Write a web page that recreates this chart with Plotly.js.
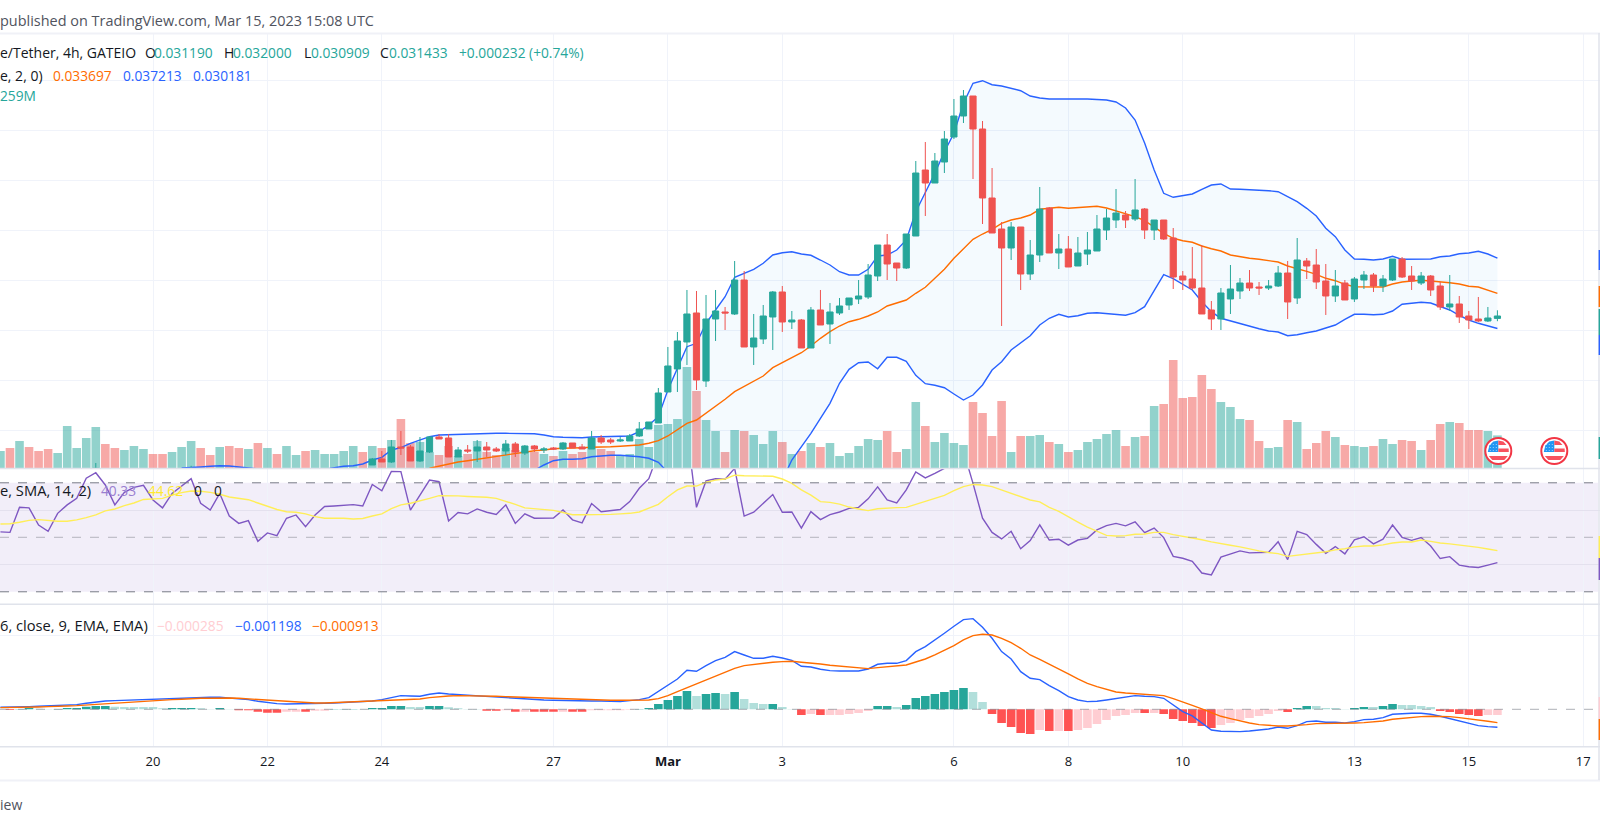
<!DOCTYPE html>
<html><head><meta charset="utf-8">
<script src="https://cdn.plot.ly/plotly-3.0.1.min.js"></script>
<style>html,body{margin:0;padding:0;background:#fff;overflow:hidden}#chart{width:1600px;height:825px}</style>
</head><body><div id="chart"></div>
<script>
// Bars are 4h; bar index k runs from -16 to 141, k=0 is 2023-02-20 00:00 UTC.
const firstBar = Date.UTC(2023,1,20) - 16*4*3600e3;
const barCount = 158;
const fmt = ms => new Date(ms).toISOString().slice(0,19).replace('T',' ');
const times = Array.from({length:barCount},(_, i)=>fmt(firstBar+i*4*3600e3));
const tail = a => times.slice(-a.length);

const tickDates = ['2023-02-20','2023-02-22','2023-02-24','2023-02-27','2023-03-01','2023-03-03','2023-03-06','2023-03-08','2023-03-10','2023-03-13','2023-03-15','2023-03-17'];
const tickLabels = ['20','22','24','27','<b>Mar</b>','3','6','8','10','13','15','17'];

// Candles: two older ones that barely peek into the pane, then k=23..141
const candleOpen = [0.0160,0.0158,
0.01653,0.01713,0.01683,0.01833,0.01833,0.01693,0.01783,0.01933,0.01923,0.01733,
0.01803,0.01793,0.01833,0.01813,0.01793,0.01863,0.01773,0.01843,0.01803,0.01823,
0.01813,0.01873,0.01833,0.01813,0.01923,0.01903,0.01893,0.01893,0.01943,0.02013,
0.02073,0.02383,0.02613,0.02883,0.03173,0.02493,0.03113,0.03183,0.03163,0.03503,
0.02833,0.02913,0.03133,0.03383,0.03083,0.03103,0.02823,0.03203,0.03063,0.03173,
0.03253,0.03313,0.03333,0.03543,0.03853,0.03673,0.03623,0.03943,0.04603,0.04473,
0.04683,0.04933,0.05143,0.05343,0.05013,0.04323,0.04013,0.03823,0.04033,0.03563,
0.03753,0.04223,0.03773,0.03813,0.03643,0.03763,0.03793,0.04003,0.04103,0.04153,
0.04113,0.04213,0.04003,0.04103,0.03923,0.03543,0.03513,0.03423,0.03203,0.03113,
0.03313,0.03393,0.03473,0.03433,0.03423,0.03443,0.03573,0.03323,0.03693,0.03653,
0.03493,0.03343,0.03473,0.03313,0.03503,0.03553,0.03443,0.03503,0.03713,0.03543,
0.03473,0.03543,0.03443,0.03233,0.03263,0.03143,0.03113,0.03093,0.03119];
const candleHigh = [0.01673,0.01645,
0.01723,0.01793,0.01903,0.01993,0.01853,0.01933,0.01943,0.01963,0.01963,0.01833,
0.01853,0.01903,0.01883,0.01833,0.01903,0.01883,0.01853,0.01853,0.01833,0.01833,
0.01883,0.01873,0.01863,0.01993,0.01953,0.01923,0.01933,0.01963,0.02083,0.02083,
0.02423,0.02833,0.02983,0.03403,0.03393,0.03353,0.03403,0.03233,0.03693,0.03593,
0.03163,0.03253,0.03393,0.03443,0.03193,0.03113,0.03233,0.03403,0.03273,0.03323,
0.03323,0.03503,0.03663,0.03853,0.03963,0.03673,0.03963,0.04693,0.04883,0.04773,
0.04993,0.05313,0.05403,0.05343,0.05093,0.04623,0.04083,0.04083,0.04033,0.03903,
0.04433,0.04233,0.03963,0.03943,0.03933,0.03983,0.04153,0.04213,0.04413,0.04193,
0.04513,0.04223,0.04103,0.04103,0.04023,0.03593,0.03833,0.03853,0.03293,0.03423,
0.03653,0.03523,0.03603,0.03483,0.03503,0.03643,0.03693,0.03923,0.03723,0.03813,
0.03663,0.03603,0.03503,0.03533,0.03593,0.03573,0.03553,0.03713,0.03733,0.03643,
0.03583,0.03553,0.03483,0.03553,0.03343,0.03193,0.03333,0.03233,0.03200];
const candleLow = [0.0158,0.0158,
0.01653,0.01683,0.01673,0.01753,0.01693,0.01683,0.01773,0.01913,0.01733,0.01733,
0.01773,0.01683,0.01733,0.01783,0.01753,0.01733,0.01753,0.01783,0.01773,0.01803,
0.01803,0.01823,0.01813,0.01813,0.01863,0.01863,0.01883,0.01893,0.01933,0.02013,
0.02073,0.02383,0.02383,0.02653,0.02403,0.02433,0.02893,0.03003,0.03153,0.02833,
0.02653,0.02863,0.02803,0.02983,0.03013,0.02823,0.02823,0.03053,0.02863,0.03153,
0.03203,0.03263,0.03313,0.03493,0.03503,0.03493,0.03613,0.03943,0.04143,0.04473,
0.04573,0.04913,0.05073,0.04513,0.04063,0.03973,0.03043,0.03703,0.03403,0.03503,
0.03683,0.03773,0.03613,0.03633,0.03643,0.03653,0.03793,0.03903,0.04023,0.04023,
0.04093,0.03913,0.03903,0.03903,0.03413,0.03403,0.03403,0.03163,0.03003,0.03003,
0.03163,0.03313,0.03393,0.03353,0.03403,0.03433,0.03113,0.03263,0.03513,0.03413,
0.03153,0.03283,0.03303,0.03283,0.03413,0.03383,0.03383,0.03493,0.03523,0.03403,
0.03453,0.03343,0.03203,0.03193,0.03073,0.03013,0.03083,0.03083,0.03091];
const candleClose = [0.0162,0.0160,
0.01713,0.01683,0.01833,0.01823,0.01693,0.01793,0.01933,0.01913,0.01733,0.01803,
0.01793,0.01833,0.01803,0.01793,0.01863,0.01783,0.01843,0.01813,0.01813,0.01813,
0.01873,0.01823,0.01813,0.01923,0.01883,0.01883,0.01903,0.01943,0.02013,0.02083,
0.02373,0.02643,0.02893,0.03163,0.02503,0.03113,0.03193,0.03173,0.03503,0.02833,
0.02923,0.03143,0.03383,0.03083,0.03103,0.02823,0.03203,0.03053,0.03183,0.03243,
0.03323,0.03343,0.03553,0.03853,0.03663,0.03623,0.03963,0.04573,0.04473,0.04693,
0.04913,0.05143,0.05343,0.05013,0.04323,0.03973,0.03823,0.04033,0.03563,0.03753,
0.04213,0.03773,0.03813,0.03633,0.03773,0.03803,0.04013,0.04123,0.04173,0.04103,
0.04203,0.04003,0.04103,0.03913,0.03533,0.03503,0.03423,0.03163,0.03113,0.03373,
0.03413,0.03473,0.03423,0.03423,0.03443,0.03573,0.03283,0.03703,0.03643,0.03483,
0.03343,0.03443,0.03303,0.03513,0.03553,0.03443,0.03513,0.03713,0.03533,0.03493,
0.03543,0.03403,0.03233,0.03263,0.03133,0.03103,0.03093,0.03123,0.03143];

const upperBand = [0.01623,0.01626,0.01633,0.0164,0.01646,0.01643,0.01633,0.01623,0.01615,0.01605,
0.01595,0.01585,0.01585,0.0159,0.016,0.0161,0.01626,0.0164,0.01646,0.01663,
0.01703,0.0173,0.01803,0.01826,0.0187,0.01903,0.01936,0.01953,0.01956,0.0196,
0.01963,0.01966,0.01973,0.0197,0.0197,0.0197,0.0197,0.01966,0.01953,0.01936,
0.0193,0.01926,0.01926,0.01933,0.01936,0.0194,0.01943,0.01943,0.01986,0.02053,
0.02136,0.02403,0.0262,0.02836,0.0287,0.0307,0.03203,0.03336,0.0353,0.0357,
0.0361,0.0367,0.03753,0.03776,0.03786,0.03763,0.0375,0.03703,0.03653,0.03586,
0.03553,0.03553,0.0361,0.03743,0.03753,0.03803,0.03903,0.04186,0.0437,0.0457,
0.04786,0.0497,0.0527,0.0547,0.05496,0.05456,0.05443,0.0542,0.05396,0.05343,
0.05323,0.05313,0.05313,0.05313,0.05318,0.05313,0.05308,0.05303,0.05283,0.05223,
0.05103,0.04873,0.04603,0.0437,0.0433,0.04343,0.04363,0.0441,0.04453,0.04463,
0.04413,0.0441,0.04406,0.04403,0.04396,0.04386,0.04336,0.04286,0.0422,0.04143,
0.0402,0.03936,0.03803,0.03713,0.0371,0.03703,0.03713,0.0374,0.0371,0.03713,
0.03713,0.03713,0.03736,0.03743,0.03766,0.03773,0.0379,0.03763,0.037213];

const basisBand = [0.0162,0.01643,0.01663,0.01683,0.01696,0.0171,0.0173,0.01743,0.01753,0.0177,
0.01783,0.01796,0.01803,0.01816,0.0182,0.01826,0.01826,0.0183,0.0183,0.01835,
0.0184,0.01843,0.01853,0.0187,0.01896,0.01943,0.02003,0.0207,0.02103,0.0217,
0.02236,0.0231,0.02386,0.02436,0.02486,0.02543,0.02626,0.02676,0.0273,0.02776,
0.02843,0.0292,0.02986,0.03043,0.03086,0.0311,0.03143,0.03183,0.03243,0.03276,
0.03303,0.0337,0.0343,0.0352,0.0361,0.0372,0.0381,0.0391,0.03963,0.0401,
0.0407,0.04103,0.04123,0.04153,0.0421,0.04223,0.0423,0.0422,0.04226,0.04236,
0.0424,0.04223,0.04196,0.0417,0.04136,0.04096,0.0403,0.0397,0.0392,0.03896,
0.0388,0.03843,0.03816,0.03793,0.03753,0.03736,0.0372,0.0371,0.03696,0.03683,
0.03643,0.0362,0.0359,0.0356,0.0352,0.03496,0.0346,0.03436,0.03433,0.0343,
0.03433,0.03463,0.03483,0.03493,0.035,0.03493,0.03486,0.03476,0.03463,0.0344,
0.03433,0.03403,0.033697];

const lowerBand = [0.0150,0.0150,0.0150,0.0151,0.0151,0.0151,0.0152,0.0152,0.0152,0.0153,
0.0153,0.0153,0.0153,0.0152,0.0152,0.0152,0.0152,0.0151,0.0151,0.0151,
0.0150,0.0150,0.0150,0.0150,0.0151,0.0151,0.0152,0.0152,0.0153,0.0153,
0.0154,0.0154,0.0155,0.0155,0.0156,0.0157,0.0158,0.0160,
0.01653,0.01696,0.0171,0.0171,0.01716,0.01736,0.01746,0.0175,0.0175,0.01746,
0.01736,0.0172,0.0168,0.0158,0.0150,0.0140,0.0130,0.0125,0.0122,0.0120,
0.0120,0.0122,0.0125,0.0130,0.0140,0.0150,0.01703,0.01836,0.0197,0.0212,
0.0227,0.0247,0.0261,0.02676,0.02683,0.02616,0.0273,0.0273,0.0269,0.0255,
0.02466,0.0245,0.02426,0.02363,0.02303,0.02353,0.02453,0.02603,0.02686,0.02803,
0.0287,0.02946,0.03053,0.0312,0.0316,0.03133,0.03146,0.0317,0.03176,0.03166,
0.03156,0.0315,0.03176,0.03236,0.03396,0.03556,0.03516,0.0346,0.03403,0.03286,
0.03186,0.0312,0.03093,0.0307,0.03043,0.03016,0.02993,0.02983,0.02946,0.02956,
0.02976,0.02993,0.03023,0.03053,0.0311,0.0316,0.0316,0.03156,0.0316,0.03193,
0.0326,0.03273,0.0328,0.03273,0.03236,0.03203,0.0315,0.03103,0.0307,0.03043,0.030181];

// Volume in millions, k=-16..141
const volume = [1.7,2.0,2.7,2.1,1.7,1.9,1.5,4.2,2.0,3.0,4.1,2.4,2.0,1.8,2.2,1.9,
1.4,1.4,1.6,2.1,2.7,2.0,1.3,2.1,2.2,2.0,
1.9,2.5,2.0,1.4,2.2,1.3,1.7,1.8,1.4,1.4,
1.7,2.2,1.6,2.2,2.0,2.8,4.9,2.5,2.6,1.6,
1.3,2.2,1.2,1.4,2.7,1.6,1.3,2.0,1.8,1.7,
1.6,1.4,1.2,1.7,1.4,1.6,3.0,1.9,1.7,1.3,
1.4,2.9,2.1,4.3,4.4,4.9,10.1,7.7,4.8,3.7,
1.6,3.8,3.7,3.3,2.4,3.7,2.6,1.4,1.7,2.5,
2.1,2.5,1.2,1.5,2.2,2.9,2.8,3.7,1.6,1.9,
6.6,4.2,2.6,3.5,2.5,2.3,6.6,5.5,3.2,6.7,
1.6,3.2,3.2,3.3,2.6,2.4,1.6,1.8,2.6,2.9,
3.4,3.8,2.2,3.1,3.2,6.2,6.4,10.8,7.0,7.1,
9.3,7.9,6.6,6.1,4.9,4.8,2.7,2.0,2.1,4.8,
4.6,1.9,2.5,3.7,3.1,2.3,2.2,2.1,2.2,2.9,
2.4,2.8,2.7,1.8,2.8,4.4,4.6,4.5,3.8,3.8,
3.7,3.26];
// colour of the volume bars that have no visible candle (k=-16..22): t teal, p pink
const earlyVolumeSide = 'tptpppttttt'+'pp'+'ttt'+'pp'+'ttt'+'pp'+'t'+'pp'+'t'+'p'+'t'+'p'+'tt'+'p'+'tttt'+'t'+'p';

const rsi = [52.0,51.8,61.0,60.8,54.5,52.2,58.8,61.9,64.3,71.7,73.7,69.2,61.9,66.5,68.3,69.1,
63.7,60.8,66.1,68.8,71.5,62.5,60.0,66.1,57.8,55.1,
56.1,48.5,51.6,50.6,57.0,58.2,53.9,58.2,61.3,61.5,
61.7,62.0,61.5,69.4,67.1,74.2,74.1,60.0,65.5,71.0,
70.4,56.0,59.1,58.6,60.4,59.2,58.4,61.9,55.1,58.6,
57.0,57.1,57.1,60.0,56.4,55.3,62.4,59.4,59.8,60.2,
63.1,68.0,71.5,81,84,87,89,61.0,70.7,71.5,
71.3,75.3,57.8,59.2,62.5,65.7,59.2,59.3,53.4,59.4,
56.5,58.3,59.3,60.6,61.0,64.1,68.5,63.7,62.6,67.4,
74.0,71.8,73.5,75.3,78,81.7,69.8,57.0,51.8,49.4,
52.2,45.8,48.8,54.6,49.0,49.3,47.1,49.0,49.6,52.7,
54.3,55.1,54.2,55.7,51.7,53.4,49.9,43.0,42.3,41.2,
36.9,36.2,42.7,43.8,45.0,44.3,44.3,44.5,48.4,41.8,
52.2,51.0,47.4,44.1,46.6,43.9,49.1,50.2,47.6,49.3,
54.5,50.0,48.9,49.9,46.8,42.2,42.9,39.8,39.2,38.9,
39.8,40.7];
const rsiSignal = [54.9,55.0,55.5,56.2,56.5,56.1,55.9,55.9,56.4,57.2,58.2,59.7,60.4,61.6,62.6,63.9,
64.1,64.3,65.5,66.4,67.0,66.9,66.5,65.8,64.8,64.2,
63.8,62.6,61.5,60.2,59.4,59.2,58.6,57.6,57.0,57.0,
57.0,56.7,56.9,57.8,58.6,60.5,61.9,62.5,63.3,64.3,
65.3,65.3,65.2,65.0,64.9,64.7,64.3,63.3,62.1,60.8,
60.5,60.2,59.9,59.1,58.3,58.3,58.3,58.4,58.4,58.6,
58.8,59.3,60.6,62.1,64.9,67.4,68.8,68.8,70.2,71.0,
71.4,72.8,72.6,72.5,72.5,72.4,71.4,69.8,67.4,65.5,
63.1,62.8,62.2,61.1,60.4,59.8,60.5,60.8,60.9,61.0,
62.1,63.0,64.3,65.4,67.1,68.6,69.4,69.2,68.6,67.4,
66.1,64.8,63.7,63.0,61.0,59.5,57.7,55.6,53.7,52.1,
50.7,50.5,50.6,51.1,51.2,51.8,51.8,51.0,50.4,49.9,
49.1,48.3,47.8,47.1,46.5,45.7,45.0,44.4,44.0,43.0,
43.4,43.9,44.3,44.7,45.4,45.8,46.5,46.8,46.8,47.2,
47.9,48.3,48.3,49.0,48.5,47.9,47.6,47.2,46.7,46.3,
45.7,45.1];

// MACD values in units of 0.00002253 (so the last MACD, -0.001198, reads -54)
const macdLine = [6,6,7,8,9,10,10,12,14,18,22,25,26,27,28,30,
32,32,33,34,35,36,36,36,34,32,
29,24,20,17,16,16,17,18,18,19,
20,21,23,25,29,35,41,40,39,45,
49,46,44,43,41,40,37,35,33,32,
30,28,27,26,26,25,25,25,25,23,
26,29,35,53,71,91,117,114,131,146,
156,173,163,153,153,159,154,147,129,127,
120,116,115,115,115,121,135,138,138,146,
173,188,207,228,249,269,272,246,213,173,
151,113,93,89,71,56,38,28,23,24,
28,33,36,41,39,38,33,13,-7,-20,
-42,-62,-66,-67,-67,-65,-63,-59,-53,-57,
-49,-37,-35,-39,-39,-41,-37,-31,-30,-25,
-15,-13,-12,-12,-15,-21,-28,-36,-43,-49,
-52,-54];
const macdSignal = [5,5,6,6,7,8,8,10,11,13,15,17,19,21,23,25,
26,28,29,30,32,33,33,34,34,33,
31,29,27,25,23,21,20,19,19,20,
21,22,23,24,25,27,28,29,31,35,
38,40,41,41,41,40,39,38,37,36,
34,33,32,30,29,28,28,27,27,27,
27,27,28,32,41,53,65,75,87,100,
111,123,131,135,138,141,143,144,141,139,
136,132,129,126,124,122,125,128,129,133,
142,151,163,176,191,208,221,225,223,213,
200,183,163,150,136,121,106,91,78,68,
60,52,49,47,46,45,41,32,23,12,
1,-10,-21,-28,-35,-41,-46,-49,-50,-50,
-49,-46,-43,-43,-42,-42,-41,-40,-38,-35,
-30,-27,-24,-22,-21,-21,-22,-25,-28,-32,
-36,-40];
const macdHist = [0,-2,1,5,2,1,1,4,4,8,10,10,8,7,7,7,
7,3,4,4,4,3,1,4,1,-3,
-3,-7,-10,-10,-7,-7,-7,-4,-4,1,
1,1,1,4,4,10,10,7,7,10,
10,6,3,1,1,-4,-4,-3,-7,-7,
-7,-7,-7,-7,-7,-7,-3,-3,-3,-3,
-1,1,4,16,28,40,55,40,46,49,
46,52,31,19,16,16,7,1,-17,-14,
-17,-17,-17,-14,-11,-5,10,10,7,13,
34,40,46,52,58,64,52,22,-14,-41,
-53,-71,-74,-62,-65,-65,-65,-62,-56,-44,
-32,-20,-17,-11,-11,-11,-14,-29,-35,-41,
-50,-56,-47,-41,-32,-26,-20,-14,-5,-8,
4,10,10,4,4,1,4,7,7,10,
16,13,13,10,7,-5,-8,-14,-17,-20,
-17,-17];
// T strong teal, t pale teal, R strong red, r pale red
const macdHistShade = 'tRTTttTTTTTTtttt'+'ttTTTttTtR'+'RRRRrrRrrT'+'TTtTTTTttT'+'TttttRRrRr'+'RRRrRRrrrr'
 +'rTTTTTTtTT'+'tTtttTttRr'+'RrrrrrTTtT'+'TTTTTTttRR'+'RRRrRrRrrr'+'rrrrRrRRRR'+'RRrrrrrrrR'+'TTttttTTtT'+'TttttRRRRR'+'rr';
const shadeColor = {T:'#26a69a',t:'#b2dfdb',R:'#ff5252',r:'#ffcdd2'};
const histColors = macdHist.map((v,i)=>shadeColor[macdHistShade[i]]);

const TEAL='#26a69a', RED='#ef5350', BLUE='#2962ff', ORANGE='#ff6d00';
const upColor='rgba(38,166,154,0.5)', downColor='rgba(239,83,80,0.5)';
const W=1600,H=825;
const fy = p => 1-p/H;

const candleX = [times[10],times[20]].concat(times.slice(-(candleOpen.length-2)));
const candleK = candleOpen.map((o,i)=>candleClose[i]>=o);
const volColors = volume.map((v,i)=>{
  if(i<earlyVolumeSide.length) return earlyVolumeSide[i]==='t'?upColor:downColor;
  return candleK[i-earlyVolumeSide.length+2]?upColor:downColor;
});
const LW=1.4;
const traces = [
 {type:'bar',x:times,y:volume,xaxis:'x',yaxis:'y',marker:{color:volColors,line:{width:0}},hoverinfo:'skip',showlegend:false},
 {type:'scatter',mode:'lines',x:tail(lowerBand),y:lowerBand,xaxis:'x',yaxis:'y2',line:{color:BLUE,width:LW},hoverinfo:'skip',showlegend:false},
 {type:'scatter',mode:'lines',x:tail(upperBand),y:upperBand,xaxis:'x',yaxis:'y2',line:{color:BLUE,width:LW},fill:'tonexty',fillcolor:'rgba(33,150,243,0.05)',hoverinfo:'skip',showlegend:false},
 {type:'scatter',mode:'lines',x:tail(basisBand),y:basisBand,xaxis:'x',yaxis:'y2',line:{color:ORANGE,width:LW},hoverinfo:'skip',showlegend:false},
 {type:'candlestick',x:candleX,open:candleOpen,high:candleHigh,low:candleLow,close:candleClose,xaxis:'x',yaxis:'y3',whiskerwidth:0,
  increasing:{line:{color:TEAL,width:1},fillcolor:TEAL},decreasing:{line:{color:RED,width:1},fillcolor:RED},hoverinfo:'skip',showlegend:false},
 {type:'scatter',mode:'lines',x:times,y:rsi,xaxis:'x',yaxis:'y4',line:{color:'#7e57c2',width:LW},hoverinfo:'skip',showlegend:false},
 {type:'scatter',mode:'lines',x:times,y:rsiSignal,xaxis:'x',yaxis:'y4',line:{color:'#ffee58',width:LW},hoverinfo:'skip',showlegend:false},
 {type:'bar',x:times,y:macdHist,xaxis:'x',yaxis:'y5',marker:{color:histColors,line:{width:0}},hoverinfo:'skip',showlegend:false},
 {type:'scatter',mode:'lines',x:times,y:macdLine,xaxis:'x',yaxis:'y5',line:{color:BLUE,width:LW},hoverinfo:'skip',showlegend:false},
 {type:'scatter',mode:'lines',x:times,y:macdSignal,xaxis:'x',yaxis:'y5',line:{color:ORANGE,width:LW},hoverinfo:'skip',showlegend:false},
];

const GRID='#f0f3fa', BORDER='#e0e3eb';
const hidden = {showticklabels:false,ticks:'',zeroline:false,showline:false,autorange:false,fixedrange:true};
const FONT='Open Sans';
const note=(text,x,y,color,size)=>({text,x:x/W,y:fy(y),xref:'paper',yref:'paper',xanchor:'left',yanchor:'middle',showarrow:false,borderpad:0,borderwidth:0,font:{family:FONT,size:size||14,color}});
const num=13.75;
const DARK='#131722', GREY='#50535e';
const notes=[
 note('published on TradingView.com, Mar 15, 2023 15:08 UTC',0,20,GREY,14.45),
 note('e/Tether, 4h, GATEIO',0,53,DARK),
 note('O',145,53,DARK),note('0.031190',154,53,TEAL,num),
 note('H',224,53,DARK),note('0.032000',233,53,TEAL,num),
 note('L',304,53,DARK),note('0.030909',311,53,TEAL,num),
 note('C',380,53,DARK),note('0.031433',389,53,TEAL,num),
 note('+0.000232 (+0.74%)',459,53,TEAL,num),
 note('e, 2, 0)',0,75,DARK),
 note('0.033697',53,75,ORANGE,num),note('0.037213',122.5,75,BLUE,num),note('0.030181',193,75,BLUE,num),
 note('259M',0,96,TEAL,num),
 note('e, SMA, 14, 2)',0,490,DARK,14.7),
 note('40.33',101,490,'#9a80d0',num),note('44.62',148,490,'#ffe930',num),
 note('0',194,490,DARK,num),note('0',214,490,DARK,num),
 note('6, close, 9, EMA, EMA)',0,625,DARK,14.7),
 note('\u22120.000285',157,625,'#ffcdd2',num),note('\u22120.001198',235,625,BLUE,num),note('\u22120.000913',312,625,ORANGE,num),
 note('iew',0,804,GREY),
];
const pline=(y,w,c)=>({type:'line',xref:'paper',yref:'paper',x0:0,x1:1,y0:fy(y),y1:fy(y),line:{color:c,width:w},layer:'above'});
const shapes=[
 pline(33.5,2,'#f0f1f7'),pline(468.5,1.5,BORDER),pline(604.3,1.5,BORDER),pline(746.7,1.5,BORDER),pline(780.5,2,'#f0f1f7'),
 {type:'line',xref:'paper',yref:'paper',x0:1599/W,x1:1599/W,y0:fy(33),y1:fy(780),line:{color:BORDER,width:1.5},layer:'above'},
 {type:'rect',xref:'paper',yref:'y4',x0:0,x1:1598/W,y0:30,y1:70,fillcolor:'rgba(126,87,194,0.1)',line:{width:0},layer:'below'},
 {type:'line',xref:'paper',yref:'y4',x0:0,x1:1,y0:70,y1:70,line:{color:'#787b86',width:1,dash:'dash'},layer:'above'},
 {type:'line',xref:'paper',yref:'y4',x0:0,x1:1,y0:50,y1:50,line:{color:'rgba(120,123,134,0.5)',width:1,dash:'dash'},layer:'above'},
 {type:'line',xref:'paper',yref:'y4',x0:0,x1:1,y0:30,y1:30,line:{color:'#787b86',width:1,dash:'dash'},layer:'above'},
 {type:'line',xref:'paper',yref:'y5',x0:0,x1:1,y0:0,y1:0,line:{color:'rgba(120,123,134,0.6)',width:1,dash:'dash'},layer:'above'},
];
// Price-scale tags just visible at the cropped right edge
const edgeTags=[[250,270,BLUE],[286,307,ORANGE],[309,335,TEAL],[335,355,BLUE],[437,459,TEAL],[536,558,'#ffee58'],[558,580,'#7e57c2'],[697,719,'#ffcdd2'],[719,740,ORANGE]];
edgeTags.forEach(t=>shapes.push({type:'rect',xref:'paper',yref:'paper',x0:1598.6/W,x1:1,y0:fy(t[1]),y1:fy(t[0]),fillcolor:t[2],line:{width:0},layer:'above'}));
// US economic-event flags
const flagCentres=[1498.3,1554.3], flagY=451;
const P=(x,y)=>(x/W)+' '+fy(y);
const poly=(pts,fill)=>({type:'path',xref:'paper',yref:'paper',path:'M'+pts.map(p=>P(p[0],p[1])).join(' L')+' Z',fillcolor:fill,line:{width:0},layer:'above'});
flagCentres.forEach(c=>{
  const y=flagY, FLAGR='#f7525f';
  shapes.push({type:'circle',xref:'paper',yref:'paper',x0:(c-13)/W,x1:(c+13)/W,y0:fy(y+13),y1:fy(y-13),fillcolor:'#fff',line:{color:'#f23645',width:2},layer:'above'});
  shapes.push(poly([[c,y-10.5],[c-5,y-9.5],[c-9,y-5.5],[c-10.5,y+1],[c,y+1]],'#2196f3'));
  shapes.push(poly([[c,y-10.5],[c+5,y-9.5],[c+8.2,y-6],[c,y-6]],FLAGR));
  shapes.push(poly([[c,y-2.5],[c+10.3,y-2.5],[c+10.5,y+1],[c,y+1]],FLAGR));
  shapes.push(poly([[c-9.5,y+5],[c+9.5,y+5],[c+6,y+9],[c-6,y+9]],FLAGR));
  [y-6.5,y-3.5,y-0.5].forEach(d=>shapes.push({type:'line',xref:'paper',yref:'paper',x0:(c-8.5)/W,x1:(c-0.5)/W,y0:fy(d),y1:fy(d),line:{color:'rgba(255,255,255,0.7)',width:0.8,dash:'1px,2px'},layer:'above'}));
});

const layout={
 width:W,height:H,margin:{l:0,r:0,t:0,b:0},paper_bgcolor:'#fff',plot_bgcolor:'#fff',showlegend:false,
 bargap:0.1,barmode:'overlay',boxgap:0.35,boxgroupgap:0,boxmode:'overlay',
 xaxis:{type:'date',range:['2023-02-17 07:49:00','2023-03-17 07:02:00'],anchor:'y5',tickmode:'array',tickvals:tickDates,ticktext:tickLabels,
   ticks:'outside',ticklen:3,tickcolor:'rgba(0,0,0,0)',tickfont:{family:FONT,size:13,color:DARK},showgrid:true,gridcolor:GRID,gridwidth:1,zeroline:false,showline:false,fixedrange:true,
   rangeslider:{visible:false},tickangle:0},
 yaxis:Object.assign({},hidden,{domain:[fy(468),fy(33.7)],range:[0,43.43],showgrid:false}),
 yaxis2:Object.assign({},hidden,{overlaying:'y',range:[0.01623,0.05966],tickmode:'array',tickvals:[0.02,0.025,0.03,0.035,0.04,0.045,0.05,0.055],showgrid:true,gridcolor:GRID,gridwidth:1}),
 yaxis3:Object.assign({},hidden,{overlaying:'y',range:[0.01623,0.05966],showgrid:false}),
 yaxis4:Object.assign({},hidden,{domain:[fy(604.3),fy(468.5)],range:[25.41,75.25],tickmode:'array',tickvals:[40,60],showgrid:true,gridcolor:'#e4e1ee',gridwidth:1}),
 yaxis5:Object.assign({},hidden,{domain:[fy(746.7),fy(604.3)],range:[-112.2,315],tickmode:'array',tickvals:[222],showgrid:true,gridcolor:GRID,gridwidth:1}),
 annotations:notes,shapes
};
Plotly.newPlot('chart',traces,layout,{staticPlot:true,displayModeBar:false});
</script></body></html>
